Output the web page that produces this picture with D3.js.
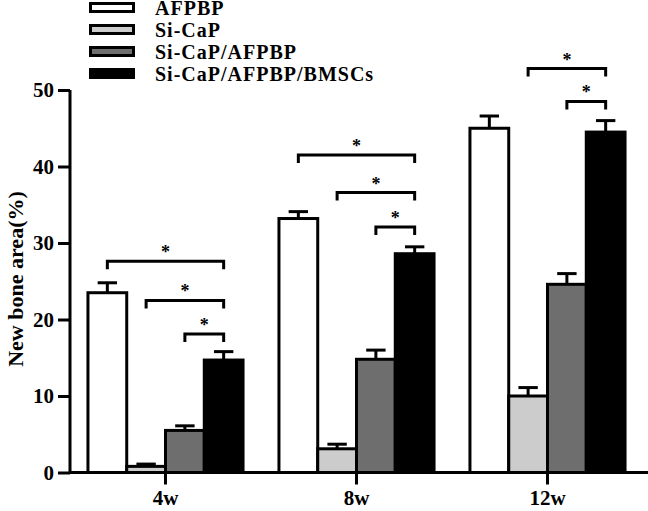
<!DOCTYPE html>
<html>
<head>
<meta charset="utf-8">
<script src="https://cdn.jsdelivr.net/npm/d3@7"></script>
<style>
  body { margin: 0; background: #fff; }
  svg text { font-family: "Liberation Serif", "Times New Roman", serif; font-weight: bold; }
</style>
</head>
<body>
<div id="chart"></div>
<script>
const groups = ["4w", "8w", "12w"];
const series = ["AFPBP", "Si-CaP", "Si-CaP/AFPBP", "Si-CaP/AFPBP/BMSCs"];
const colors = ["#ffffff", "#cccccc", "#6e6e6e", "#000000"];

// mean values per series, one entry per group
const afpbp = [23.5, 33.2, 45.0];
const sicap = [0.8, 3.1, 10.0];
const sicapAfpbp = [5.5, 14.8, 24.6];
const bmscs = [14.7, 28.6, 44.5];
// upper error (SD)
const afpbpErr = [1.3, 0.9, 1.6];
const sicapErr = [0.3, 0.6, 1.1];
const sicapAfpbpErr = [0.6, 1.2, 1.4];
const bmscsErr = [1.1, 0.9, 1.5];

// significance brackets: group, from series, to series, height (data units)
const brackets = [
  ["4w", 0, 3, 27.6], ["4w", 1, 3, 22.5], ["4w", 2, 3, 18.1],
  ["8w", 0, 3, 41.5], ["8w", 1, 3, 36.6], ["8w", 2, 3, 32.1],
  ["12w", 1, 3, 52.8], ["12w", 2, 3, 48.5]
];

const yTicks = [0, 10, 20, 30, 40, 50];

const means = [afpbp, sicap, sicapAfpbp, bmscs];
const errs = [afpbpErr, sicapErr, sicapAfpbpErr, bmscsErr];

const width = 648, height = 511;
const svg = d3.select("#chart").append("svg")
    .attr("width", width)
    .attr("height", height);

const x0 = d3.scaleBand()
    .domain(groups)
    .range([70, 643])
    .paddingInner(0.188)
    .paddingOuter(0.094);

const x1 = d3.scaleBand()
    .domain(d3.range(series.length))
    .range([0, x0.bandwidth()]);

const y = d3.scaleLinear()
    .domain([0, 50])
    .range([472.5, 90]);

// bars
const data = [];
groups.forEach((g, gi) => {
  series.forEach((s, si) => {
    data.push({ g, si, v: means[si][gi], e: errs[si][gi] });
  });
});

const bar = svg.append("g").selectAll("g")
    .data(data)
    .join("g")
    .attr("transform", d => `translate(${x0(d.g) + x1(d.si)},0)`);

// error bars first so bar outline sits on top
bar.append("line")
    .attr("x1", x1.bandwidth() / 2)
    .attr("x2", x1.bandwidth() / 2)
    .attr("y1", d => y(d.v))
    .attr("y2", d => y(d.v + d.e))
    .attr("stroke", "#000")
    .attr("stroke-width", 3);

bar.append("line")
    .attr("x1", x1.bandwidth() * 0.25)
    .attr("x2", x1.bandwidth() * 0.75)
    .attr("y1", d => y(d.v + d.e))
    .attr("y2", d => y(d.v + d.e))
    .attr("stroke", "#000")
    .attr("stroke-width", 3);

bar.append("rect")
    .attr("x", 0)
    .attr("y", d => y(d.v))
    .attr("width", x1.bandwidth())
    .attr("height", d => y(0) - y(d.v))
    .attr("fill", d => colors[d.si])
    .attr("stroke", "#000")
    .attr("stroke-width", 3);

// y axis
const yAxis = svg.append("g")
    .attr("transform", "translate(70,0)")
    .call(d3.axisLeft(y).tickValues(yTicks).tickSize(12).tickPadding(4));
yAxis.select(".domain").attr("stroke-width", 3).attr("d", `M0,${y(0) + 1.5}V${y(50)}`);
yAxis.selectAll(".tick line").attr("stroke-width", 3);
yAxis.selectAll(".tick text").attr("font-size", 21).attr("fill", "#000");

// x axis
const xAxis = svg.append("g")
    .attr("transform", `translate(0,${y(0)})`)
    .call(d3.axisBottom(x0).tickSize(12).tickPadding(6));
xAxis.select(".domain").attr("stroke-width", 3).attr("d", `M70,0H${width}`);
xAxis.selectAll(".tick line").attr("stroke-width", 3);
xAxis.selectAll(".tick text").attr("font-size", 21).attr("fill", "#000");

// y label
svg.append("text")
    .attr("transform", "translate(23,279) rotate(-90)")
    .attr("text-anchor", "middle")
    .attr("font-size", 22)
    .text("New bone area(%)");

// significance brackets
const cx = (g, si) => x0(g) + x1(si) + x1.bandwidth() / 2;
const br = svg.append("g").selectAll("g").data(brackets).join("g");
br.append("path")
    .attr("d", d => {
      const xa = cx(d[0], d[1]), xb = cx(d[0], d[2]), yy = y(d[3]);
      return `M${xa},${yy + 8}V${yy}H${xb}V${yy + 8}`;
    })
    .attr("fill", "none")
    .attr("stroke", "#000")
    .attr("stroke-width", 3);
br.append("text")
    .attr("x", d => (cx(d[0], d[1]) + cx(d[0], d[2])) / 2)
    .attr("y", d => y(d[3]) - 3)
    .attr("text-anchor", "middle")
    .attr("font-size", 18)
    .attr("font-weight", "normal")
    .text("*");

// legend
const legend = svg.append("g").selectAll("g")
    .data(series)
    .join("g")
    .attr("transform", (d, i) => `translate(0,${7.5 + i * 22})`);
legend.append("rect")
    .attr("x", 90.5)
    .attr("y", -4)
    .attr("width", 43)
    .attr("height", 8)
    .attr("fill", (d, i) => colors[i])
    .attr("stroke", "#000")
    .attr("stroke-width", 3);
legend.append("text")
    .attr("x", 155)
    .attr("y", 7.5)
    .attr("font-size", 20)
    .attr("letter-spacing", 1)
    .text(d => d);
</script>
</body>
</html>
